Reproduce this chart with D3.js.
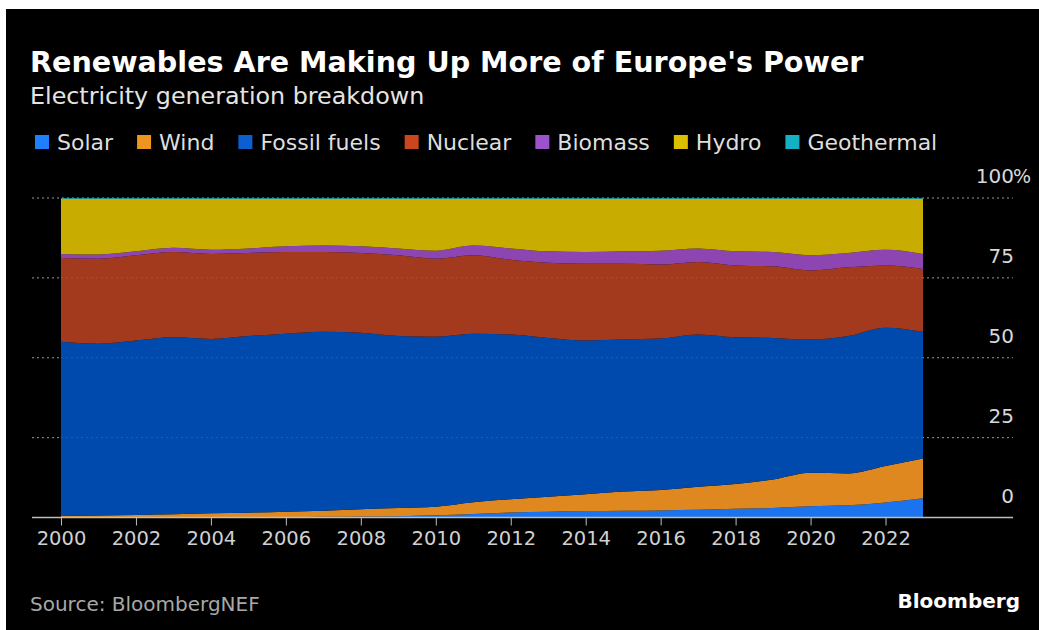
<!DOCTYPE html>
<html>
<head>
    <meta charset="utf-8">
    <script src="https://cdnjs.cloudflare.com/ajax/libs/d3/7.8.5/d3.min.js"></script>
    <style>
        body {
            margin: 0;
            background-color: #fff;
            font-family: 'DejaVu Sans', sans-serif;
        }
    </style>
</head>
<body>
    <svg width="1039" height="630"></svg>
    <script>
        // data (share of generation, %)
        var years = d3.range(2000, 2024);
        var series = ["Solar", "Wind", "Fossil fuels", "Nuclear", "Biomass", "Hydro", "Geothermal"];
        var solar = [0.0, 0.0, 0.0, 0.0, 0.05, 0.1, 0.1, 0.2, 0.3, 0.4, 0.7, 1.1, 1.6, 1.8, 2.0, 2.1, 2.2, 2.4, 2.7, 3.0, 3.5, 3.8, 4.7, 6.0];
        var wind = [0.5, 0.6, 0.8, 1.0, 1.25, 1.4, 1.7, 1.9, 2.3, 2.6, 2.7, 3.7, 4.1, 4.7, 5.3, 6.0, 6.4, 7.2, 7.8, 8.9, 10.5, 10.0, 11.4, 12.5];
        var fossil = [54.5, 53.8, 54.6, 55.4, 54.6, 55.3, 55.7, 56.0, 55.2, 53.8, 53.2, 52.7, 51.6, 49.7, 48.1, 47.6, 47.4, 47.7, 45.9, 44.3, 41.7, 43.0, 43.3, 39.6];
        var nuclear = [26.2, 26.6, 26.7, 26.7, 26.6, 26.0, 25.6, 25.0, 25.0, 25.3, 24.4, 24.6, 23.4, 23.5, 24.0, 23.7, 23.2, 22.7, 22.5, 22.4, 21.6, 21.5, 19.5, 19.7];
        var biomass = [1.3, 1.3, 1.2, 1.3, 1.3, 1.4, 1.8, 2.0, 2.1, 2.1, 2.5, 3.0, 3.5, 3.6, 3.7, 3.9, 4.3, 4.2, 4.4, 4.5, 4.8, 4.5, 4.9, 4.7];
        var geothermal = [0.2, 0.2, 0.2, 0.2, 0.2, 0.2, 0.2, 0.2, 0.2, 0.2, 0.2, 0.2, 0.2, 0.2, 0.2, 0.2, 0.2, 0.2, 0.2, 0.2, 0.2, 0.2, 0.2, 0.2];
        // hydro is the rest of the 100%
        var hydro = years.map(function(y, i) {
            return +(100 - solar[i] - wind[i] - fossil[i] - nuclear[i] - biomass[i] - geothermal[i]).toFixed(2);
        });
        var yTicks = [0, 25, 50, 75, 100];
        var xTicks = d3.range(2000, 2023, 2);

        var areaColors = ["#1b74ee", "#df881f", "#004aad", "#a33a1d", "#8d45b1", "#c8ac00", "#17a6b6"];
        var legendColors = ["#1f80ff", "#ee951f", "#0c5fd0", "#c9461f", "#9c52c8", "#dcc000", "#14b0c4"];

        var values = [solar, wind, fossil, nuclear, biomass, hydro, geothermal];
        var table = years.map(function(y, i) {
            var row = {year: y};
            series.forEach(function(s, k) { row[s] = values[k][i]; });
            return row;
        });

        var svg = d3.select("svg");

        // black panel
        svg.append("rect")
            .attr("x", 6).attr("y", 9)
            .attr("width", 1033).attr("height", 621)
            .attr("fill", "#000");

        var x = d3.scaleLinear().domain([2000, 2023]).range([61, 923]),
            y = d3.scaleLinear().domain([0, 100]).range([517.5, 198]);

        // gridlines behind the areas
        svg.append("g").selectAll("line")
            .data(yTicks.slice(1))
            .enter().append("line")
            .attr("x1", 32).attr("x2", 1013)
            .attr("y1", function(d) { return y(d); })
            .attr("y2", function(d) { return y(d); })
            .attr("stroke", "#9a9a9a")
            .attr("stroke-width", 1)
            .attr("stroke-dasharray", "2,3");

        var stack = d3.stack().keys(series);
        var layers = stack(table);

        var area = d3.area()
            .curve(d3.curveMonotoneX)
            .x(function(d) { return x(d.data.year); })
            .y0(function(d) { return y(d[0]); })
            .y1(function(d) { return y(d[1]); });

        svg.append("g").selectAll("path")
            .data(layers)
            .enter().append("path")
            .attr("d", area)
            .attr("fill", function(d, i) { return areaColors[i]; });

        // faint gridlines over the areas
        svg.append("g").selectAll("line")
            .data(yTicks.slice(1, 4))
            .enter().append("line")
            .attr("x1", x(2000)).attr("x2", x(2023))
            .attr("y1", function(d) { return y(d); })
            .attr("y2", function(d) { return y(d); })
            .attr("stroke", "rgba(255,255,255,0.12)")
            .attr("stroke-dasharray", "2,3");

        // x axis
        var xAxis = svg.append("g")
            .attr("transform", "translate(0," + y(0) + ")")
            .call(d3.axisBottom(x).tickValues(xTicks).tickFormat(d3.format("d")).tickSize(8).tickPadding(6));
        xAxis.select(".domain").remove();
        xAxis.selectAll(".tick line").attr("stroke", "#bdbdbd");
        xAxis.selectAll(".tick text")
            .attr("fill", "#d0d0d0")
            .style("font", "19.5px 'DejaVu Sans'");
        xAxis.append("line")
            .attr("x1", 32).attr("x2", 1013)
            .attr("stroke", "#bdbdbd").attr("stroke-width", 1.5);

        // y labels on the right
        var yl = svg.append("g");
        yl.selectAll("text")
            .data(yTicks)
            .enter().append("text")
            .attr("x", 1014)
            .attr("y", function(d) { return y(d) - 15; })
            .attr("text-anchor", "end")
            .attr("fill", "#d8d8d8")
            .style("font", "20px 'DejaVu Sans'")
            .text(function(d) { return d; });
        yl.append("text")
            .attr("x", 1013)
            .attr("y", y(100) - 15)
            .attr("fill", "#d8d8d8")
            .style("font", "19px 'DejaVu Sans'")
            .text("%");

        // titles
        svg.append("text")
            .attr("x", 30).attr("y", 72)
            .attr("fill", "#fff")
            .style("font", "bold 28.6px 'DejaVu Sans'")
            .text("Renewables Are Making Up More of Europe's Power");
        svg.append("text")
            .attr("x", 30).attr("y", 104)
            .attr("fill", "#e4e4e4")
            .style("font", "23.8px 'DejaVu Sans'")
            .text("Electricity generation breakdown");

        // legend
        var lg = svg.append("g").attr("transform", "translate(35,142)");
        var lx = 0;
        series.forEach(function(s, i) {
            lg.append("rect")
                .attr("x", lx).attr("y", -7)
                .attr("width", 14).attr("height", 14)
                .attr("fill", legendColors[i]);
            var t = lg.append("text")
                .attr("x", lx + 22).attr("y", 8)
                .attr("fill", "#dedede")
                .style("font", "22px 'DejaVu Sans'")
                .text(s);
            lx += 22 + t.node().getComputedTextLength() + 24;
        });

        // footer
        svg.append("text")
            .attr("x", 30).attr("y", 611)
            .attr("fill", "#a8a8a8")
            .style("font", "20px 'DejaVu Sans'")
            .text("Source: BloombergNEF");
        svg.append("text")
            .attr("x", 1020).attr("y", 608)
            .attr("text-anchor", "end")
            .attr("fill", "#fff")
            .style("font", "bold 20px 'DejaVu Sans'")
            .text("Bloomberg");
    </script>
</body>
</html>
